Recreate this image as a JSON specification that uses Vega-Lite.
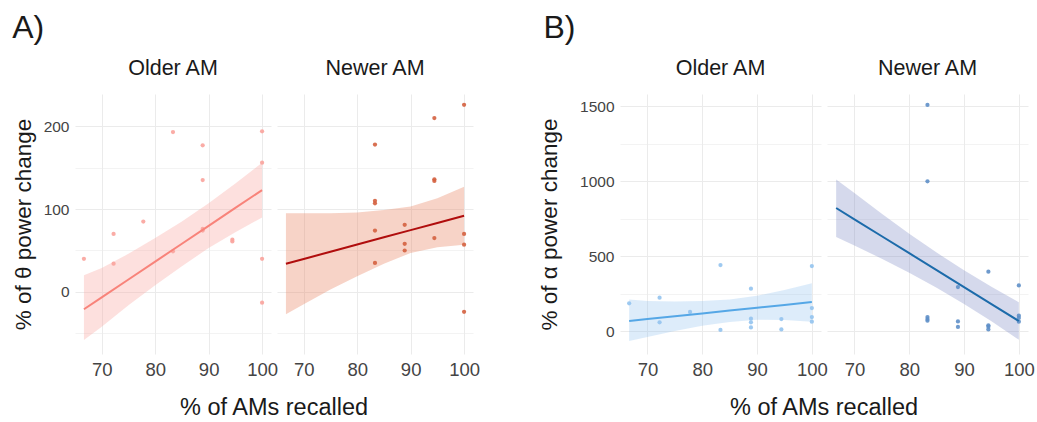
{
  "$schema": "https://vega.github.io/schema/vega-lite/v6.json",
  "background": "white",
  "padding": {"left": 12, "top": 11, "right": 0, "bottom": 0},
  "config": {
    "font": "Liberation Sans",
    "view": {"stroke": null},
    "axis": {
      "domain": false, "ticks": false,
      "gridColor": "#EBEBEB",
      "labelColor": "#444444", "labelFontSize": 15.5, "labelPadding": 6,
      "titleColor": "#1A1A1A", "titleFontSize": 22.5, "titleFontWeight": "normal", "titlePadding": 8
    },
    "axisX": {"labelFontSize": 18.5, "labelPadding": 6},
    "header": {"labelFontSize": 21.5, "labelColor": "#1A1A1A", "labelPadding": 15, "titleFontSize": 23.5, "titleColor": "#1A1A1A", "titleFontWeight": "normal", "titlePadding": 7},
    "title": {"fontSize": 32, "fontWeight": "normal", "color": "#1A1A1A", "anchor": "start"}
  },
  "datasets": {
    "rows": [
      {"kind": "point", "panel": "A", "period": "Older AM", "x": 66.67, "y": 40},
      {"kind": "point", "panel": "A", "period": "Older AM", "x": 72.22, "y": 70},
      {"kind": "point", "panel": "A", "period": "Older AM", "x": 72.22, "y": 34},
      {"kind": "point", "panel": "A", "period": "Older AM", "x": 77.78, "y": 85},
      {"kind": "point", "panel": "A", "period": "Older AM", "x": 83.33, "y": 193},
      {"kind": "point", "panel": "A", "period": "Older AM", "x": 83.33, "y": 49},
      {"kind": "point", "panel": "A", "period": "Older AM", "x": 88.89, "y": 177},
      {"kind": "point", "panel": "A", "period": "Older AM", "x": 88.89, "y": 135},
      {"kind": "point", "panel": "A", "period": "Older AM", "x": 88.89, "y": 76},
      {"kind": "point", "panel": "A", "period": "Older AM", "x": 88.89, "y": 74},
      {"kind": "point", "panel": "A", "period": "Older AM", "x": 94.44, "y": 63},
      {"kind": "point", "panel": "A", "period": "Older AM", "x": 94.44, "y": 61},
      {"kind": "point", "panel": "A", "period": "Older AM", "x": 100, "y": 194},
      {"kind": "point", "panel": "A", "period": "Older AM", "x": 100, "y": 156},
      {"kind": "point", "panel": "A", "period": "Older AM", "x": 100, "y": 40},
      {"kind": "point", "panel": "A", "period": "Older AM", "x": 100, "y": -13},
      {"kind": "point", "panel": "A", "period": "Newer AM", "x": 83.33, "y": 178},
      {"kind": "point", "panel": "A", "period": "Newer AM", "x": 83.33, "y": 110},
      {"kind": "point", "panel": "A", "period": "Newer AM", "x": 83.33, "y": 107},
      {"kind": "point", "panel": "A", "period": "Newer AM", "x": 83.33, "y": 74},
      {"kind": "point", "panel": "A", "period": "Newer AM", "x": 83.33, "y": 35},
      {"kind": "point", "panel": "A", "period": "Newer AM", "x": 88.89, "y": 81},
      {"kind": "point", "panel": "A", "period": "Newer AM", "x": 88.89, "y": 58},
      {"kind": "point", "panel": "A", "period": "Newer AM", "x": 88.89, "y": 50},
      {"kind": "point", "panel": "A", "period": "Newer AM", "x": 94.44, "y": 210},
      {"kind": "point", "panel": "A", "period": "Newer AM", "x": 94.44, "y": 136},
      {"kind": "point", "panel": "A", "period": "Newer AM", "x": 94.44, "y": 134},
      {"kind": "point", "panel": "A", "period": "Newer AM", "x": 94.44, "y": 65},
      {"kind": "point", "panel": "A", "period": "Newer AM", "x": 100, "y": 226},
      {"kind": "point", "panel": "A", "period": "Newer AM", "x": 100, "y": 70},
      {"kind": "point", "panel": "A", "period": "Newer AM", "x": 100, "y": 57},
      {"kind": "point", "panel": "A", "period": "Newer AM", "x": 100, "y": -24},
      {"kind": "point", "panel": "B", "period": "Older AM", "x": 66.67, "y": 185},
      {"kind": "point", "panel": "B", "period": "Older AM", "x": 72.22, "y": 222},
      {"kind": "point", "panel": "B", "period": "Older AM", "x": 72.22, "y": 58},
      {"kind": "point", "panel": "B", "period": "Older AM", "x": 77.78, "y": 127},
      {"kind": "point", "panel": "B", "period": "Older AM", "x": 83.33, "y": 440},
      {"kind": "point", "panel": "B", "period": "Older AM", "x": 83.33, "y": 7},
      {"kind": "point", "panel": "B", "period": "Older AM", "x": 88.89, "y": 282},
      {"kind": "point", "panel": "B", "period": "Older AM", "x": 88.89, "y": 82},
      {"kind": "point", "panel": "B", "period": "Older AM", "x": 88.89, "y": 58},
      {"kind": "point", "panel": "B", "period": "Older AM", "x": 88.89, "y": 24},
      {"kind": "point", "panel": "B", "period": "Older AM", "x": 94.44, "y": 80},
      {"kind": "point", "panel": "B", "period": "Older AM", "x": 94.44, "y": 11},
      {"kind": "point", "panel": "B", "period": "Older AM", "x": 100, "y": 433},
      {"kind": "point", "panel": "B", "period": "Older AM", "x": 100, "y": 153},
      {"kind": "point", "panel": "B", "period": "Older AM", "x": 100, "y": 93},
      {"kind": "point", "panel": "B", "period": "Older AM", "x": 100, "y": 62},
      {"kind": "point", "panel": "B", "period": "Newer AM", "x": 83.33, "y": 1507},
      {"kind": "point", "panel": "B", "period": "Newer AM", "x": 83.33, "y": 998},
      {"kind": "point", "panel": "B", "period": "Newer AM", "x": 83.33, "y": 93},
      {"kind": "point", "panel": "B", "period": "Newer AM", "x": 83.33, "y": 80},
      {"kind": "point", "panel": "B", "period": "Newer AM", "x": 83.33, "y": 69},
      {"kind": "point", "panel": "B", "period": "Newer AM", "x": 88.89, "y": 293},
      {"kind": "point", "panel": "B", "period": "Newer AM", "x": 88.89, "y": 64},
      {"kind": "point", "panel": "B", "period": "Newer AM", "x": 88.89, "y": 27},
      {"kind": "point", "panel": "B", "period": "Newer AM", "x": 94.44, "y": 396},
      {"kind": "point", "panel": "B", "period": "Newer AM", "x": 94.44, "y": 38},
      {"kind": "point", "panel": "B", "period": "Newer AM", "x": 94.44, "y": 29},
      {"kind": "point", "panel": "B", "period": "Newer AM", "x": 94.44, "y": 11},
      {"kind": "point", "panel": "B", "period": "Newer AM", "x": 100, "y": 304},
      {"kind": "point", "panel": "B", "period": "Newer AM", "x": 100, "y": 102},
      {"kind": "point", "panel": "B", "period": "Newer AM", "x": 100, "y": 87},
      {"kind": "point", "panel": "B", "period": "Newer AM", "x": 100, "y": 62},
      {"kind": "fit", "panel": "A", "period": "Older AM", "x": 66.67, "fit": -21, "lo": -58, "hi": 20},
      {"kind": "fit", "panel": "A", "period": "Older AM", "x": 70, "fit": -6.6, "lo": -42, "hi": 29},
      {"kind": "fit", "panel": "A", "period": "Older AM", "x": 75, "fit": 15, "lo": -16, "hi": 46},
      {"kind": "fit", "panel": "A", "period": "Older AM", "x": 80, "fit": 36.6, "lo": 8, "hi": 65},
      {"kind": "fit", "panel": "A", "period": "Older AM", "x": 85, "fit": 58.2, "lo": 31, "hi": 85},
      {"kind": "fit", "panel": "A", "period": "Older AM", "x": 90, "fit": 79.8, "lo": 53, "hi": 107},
      {"kind": "fit", "panel": "A", "period": "Older AM", "x": 95, "fit": 101.4, "lo": 72, "hi": 131},
      {"kind": "fit", "panel": "A", "period": "Older AM", "x": 100, "fit": 123, "lo": 90, "hi": 156},
      {"kind": "fit", "panel": "A", "period": "Newer AM", "x": 66.67, "fit": 34, "lo": -27, "hi": 95},
      {"kind": "fit", "panel": "A", "period": "Newer AM", "x": 70, "fit": 39.8, "lo": -15, "hi": 95},
      {"kind": "fit", "panel": "A", "period": "Newer AM", "x": 75, "fit": 48.5, "lo": 3, "hi": 95},
      {"kind": "fit", "panel": "A", "period": "Newer AM", "x": 80, "fit": 57.2, "lo": 19, "hi": 96},
      {"kind": "fit", "panel": "A", "period": "Newer AM", "x": 85, "fit": 65.9, "lo": 34, "hi": 99},
      {"kind": "fit", "panel": "A", "period": "Newer AM", "x": 90, "fit": 74.6, "lo": 47, "hi": 103},
      {"kind": "fit", "panel": "A", "period": "Newer AM", "x": 95, "fit": 83.3, "lo": 54, "hi": 113},
      {"kind": "fit", "panel": "A", "period": "Newer AM", "x": 100, "fit": 92, "lo": 57, "hi": 127},
      {"kind": "fit", "panel": "B", "period": "Older AM", "x": 66.67, "fit": 67, "lo": -67, "hi": 211},
      {"kind": "fit", "panel": "B", "period": "Older AM", "x": 70, "fit": 79.6, "lo": -40, "hi": 200},
      {"kind": "fit", "panel": "B", "period": "Older AM", "x": 75, "fit": 98.5, "lo": 0, "hi": 197},
      {"kind": "fit", "panel": "B", "period": "Older AM", "x": 80, "fit": 117.4, "lo": 35, "hi": 200},
      {"kind": "fit", "panel": "B", "period": "Older AM", "x": 85, "fit": 136.3, "lo": 61, "hi": 211},
      {"kind": "fit", "panel": "B", "period": "Older AM", "x": 90, "fit": 155.2, "lo": 75, "hi": 235},
      {"kind": "fit", "panel": "B", "period": "Older AM", "x": 95, "fit": 174.1, "lo": 74, "hi": 274},
      {"kind": "fit", "panel": "B", "period": "Older AM", "x": 100, "fit": 193, "lo": 62, "hi": 318},
      {"kind": "fit", "panel": "B", "period": "Newer AM", "x": 66.67, "fit": 820, "lo": 627, "hi": 1010},
      {"kind": "fit", "panel": "B", "period": "Newer AM", "x": 70, "fit": 745, "lo": 570, "hi": 920},
      {"kind": "fit", "panel": "B", "period": "Newer AM", "x": 75, "fit": 632, "lo": 482, "hi": 782},
      {"kind": "fit", "panel": "B", "period": "Newer AM", "x": 80, "fit": 519, "lo": 389, "hi": 649},
      {"kind": "fit", "panel": "B", "period": "Newer AM", "x": 85, "fit": 406, "lo": 289, "hi": 523},
      {"kind": "fit", "panel": "B", "period": "Newer AM", "x": 90, "fit": 293, "lo": 181, "hi": 405},
      {"kind": "fit", "panel": "B", "period": "Newer AM", "x": 95, "fit": 180, "lo": 65, "hi": 295},
      {"kind": "fit", "panel": "B", "period": "Newer AM", "x": 100, "fit": 67, "lo": -58, "hi": 192}
    ]
  },
  "hconcat": [
    {
      "title": {"text": "A)", "frame": "bounds", "offset": 13},
      "data": {"name": "rows"},
      "transform": [{"filter": "datum.panel === 'A'"}],
      "facet": {"column": {"field": "period", "type": "nominal", "sort": ["Older AM", "Newer AM"], "title": "% of AMs recalled", "header": {"titleOrient": "bottom", "labelOrient": "top"}}},
      "spacing": 6,
      "spec": {
        "width": 196, "height": 260,
        "layer": [
          {
            "transform": [{"filter": "datum.kind === 'fit'"}],
            "mark": {"type": "area", "opacity": 0.35},
            "encoding": {
              "x": {"field": "x", "type": "quantitative"},
              "y": {"field": "lo", "type": "quantitative"},
              "y2": {"field": "hi"},
              "fill": {"field": "period", "type": "nominal", "scale": {"domain": ["Older AM", "Newer AM"], "range": ["#F9A7A0", "#E9805F"]}, "legend": null}
            }
          },
          {
            "transform": [{"filter": "datum.kind === 'point'"}],
            "mark": {"type": "circle", "size": 18, "opacity": 0.9},
            "encoding": {
              "x": {"field": "x", "type": "quantitative"},
              "y": {"field": "y", "type": "quantitative"},
              "color": {"field": "period", "type": "nominal", "scale": {"domain": ["Older AM", "Newer AM"], "range": ["#F9A39C", "#D4603F"]}, "legend": null}
            }
          },
          {
            "transform": [{"filter": "datum.kind === 'fit'"}],
            "mark": {"type": "line", "strokeWidth": 2},
            "encoding": {
              "x": {"field": "x", "type": "quantitative", "scale": {"domain": [65, 101.67], "nice": false, "zero": false},
                "axis": {"title": null, "values": [70, 75, 80, 85, 90, 95, 100], "labelExpr": "datum.value % 10 === 0 ? datum.label : ''", "gridWidth": {"condition": {"test": "datum.value % 10 === 0", "value": 1}, "value": 0.6}}},
              "y": {"field": "fit", "type": "quantitative", "scale": {"domain": [-75, 239], "nice": false, "zero": false},
                "axis": {"title": "% of θ power change", "values": [-50, 0, 50, 100, 150, 200], "format": "d", "labelExpr": "datum.value % 100 === 0 ? datum.label : ''", "gridWidth": {"condition": {"test": "datum.value % 100 === 0", "value": 1}, "value": 0.6}}},
              "stroke": {"field": "period", "type": "nominal", "scale": {"domain": ["Older AM", "Newer AM"], "range": ["#F8837A", "#B00D0D"]}, "legend": null}
            }
          }
        ]
      }
    },
    {
      "title": {"text": "B)", "frame": "bounds", "offset": 13, "dx": 5},
      "data": {"name": "rows"},
      "transform": [{"filter": "datum.panel === 'B'"}],
      "facet": {"column": {"field": "period", "type": "nominal", "sort": ["Older AM", "Newer AM"], "title": "% of AMs recalled", "header": {"titleOrient": "bottom", "labelOrient": "top"}}},
      "spacing": 6,
      "spec": {
        "width": 201, "height": 260,
        "layer": [
          {
            "transform": [{"filter": "datum.kind === 'fit'"}],
            "mark": {"type": "area", "opacity": 0.3},
            "encoding": {
              "x": {"field": "x", "type": "quantitative"},
              "y": {"field": "lo", "type": "quantitative"},
              "y2": {"field": "hi"},
              "fill": {"field": "period", "type": "nominal", "scale": {"domain": ["Older AM", "Newer AM"], "range": ["#8EC0EE", "#7480C0"]}, "legend": null}
            }
          },
          {
            "transform": [{"filter": "datum.kind === 'point'"}],
            "mark": {"type": "circle", "size": 18, "opacity": 0.9},
            "encoding": {
              "x": {"field": "x", "type": "quantitative"},
              "y": {"field": "y", "type": "quantitative"},
              "color": {"field": "period", "type": "nominal", "scale": {"domain": ["Older AM", "Newer AM"], "range": ["#93C3EE", "#5E8FC8"]}, "legend": null}
            }
          },
          {
            "transform": [{"filter": "datum.kind === 'fit'"}],
            "mark": {"type": "line", "strokeWidth": 2},
            "encoding": {
              "x": {"field": "x", "type": "quantitative", "scale": {"domain": [65, 101.67], "nice": false, "zero": false},
                "axis": {"title": null, "values": [70, 75, 80, 85, 90, 95, 100], "labelExpr": "datum.value % 10 === 0 ? datum.label : ''", "gridWidth": {"condition": {"test": "datum.value % 10 === 0", "value": 1}, "value": 0.6}}},
              "y": {"field": "fit", "type": "quantitative", "scale": {"domain": [-153, 1580], "nice": false, "zero": false},
                "axis": {"title": "% of α power change", "titlePadding": 18, "values": [0, 250, 500, 750, 1000, 1250, 1500], "format": "d", "labelExpr": "datum.value % 500 === 0 ? datum.label : ''", "gridWidth": {"condition": {"test": "datum.value % 500 === 0", "value": 1}, "value": 0.6}}},
              "stroke": {"field": "period", "type": "nominal", "scale": {"domain": ["Older AM", "Newer AM"], "range": ["#55A7E6", "#1C6BAA"]}, "legend": null}
            }
          }
        ]
      }
    }
  ],
  "resolve": {"scale": {"color": "independent", "fill": "independent", "stroke": "independent"}},
  "spacing": 58
}
